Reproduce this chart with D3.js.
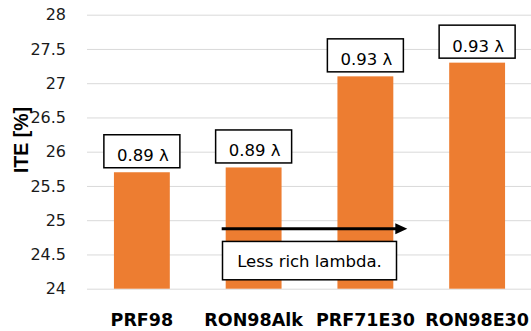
<!DOCTYPE html>
<html>
<head>
<meta charset="utf-8">
<script src="https://cdn.jsdelivr.net/npm/d3@7"></script>
<style>
  html, body { margin: 0; padding: 0; background: #fff; }
  svg { display: block; }
</style>
</head>
<body>
<svg id="chart" width="531" height="331"></svg>
<script>
// Fuel blends and their indicated thermal efficiency
const categories = ["PRF98", "RON98Alk", "PRF71E30", "RON98E30"];
const iteValues = [25.70, 25.77, 27.10, 27.30];
const lambdaLabels = ["0.89 λ", "0.89 λ", "0.93 λ", "0.93 λ"];
const yTicks = [24, 24.5, 25, 25.5, 26, 26.5, 27, 27.5, 28];
const annotationText = "Less rich lambda.";

const svg = d3.select("#chart");
const plot = { left: 86, right: 533, top: 14.7, bottom: 288.7 };

const x = d3.scaleBand()
  .domain(categories)
  .range([plot.left, plot.right])
  .paddingInner(0.5)
  .paddingOuter(0.25);

const y = d3.scaleLinear()
  .domain([24, 28])
  .range([plot.bottom, plot.top]);

// Gridlines and tick labels
const yAxis = d3.axisLeft(y)
  .tickValues(yTicks)
  .tickSize(-(531 - (plot.left + 1)))
  .tickPadding(21)
  .tickFormat(d => String(d));

const gy = svg.append("g")
  .attr("transform", `translate(${plot.left + 1},0)`)
  .call(yAxis);
gy.select(".domain").remove();
gy.selectAll(".tick line").attr("stroke", "#d9d9d9").attr("stroke-width", 1);
gy.selectAll(".tick text")
  .attr("font-family", "DejaVu Sans")
  .attr("font-size", 16)
  .attr("fill", "#1a1a1a");

// Axis title
svg.append("text")
  .attr("transform", `translate(27.5,140) rotate(-90)`)
  .attr("text-anchor", "middle")
  .attr("font-family", "Liberation Sans")
  .attr("font-weight", "bold")
  .attr("font-size", 19.5)
  .attr("fill", "#000")
  .text("ITE [%]");

// Bars
svg.append("g").selectAll("rect")
  .data(categories)
  .join("rect")
  .attr("x", d => x(d))
  .attr("y", (d, i) => y(iteValues[i]))
  .attr("width", x.bandwidth())
  .attr("height", (d, i) => y(24) - y(iteValues[i]))
  .attr("fill", "#ED7D31");

// Lambda callouts above bars
const boxW = 76, boxH = 33, boxGap = 4.5;
const callouts = svg.append("g").selectAll("g")
  .data(categories)
  .join("g")
  .attr("transform", (d, i) =>
    `translate(${x(d) + x.bandwidth() / 2},${y(iteValues[i]) - boxGap})`);
callouts.append("rect")
  .attr("x", -boxW / 2)
  .attr("y", -boxH)
  .attr("width", boxW)
  .attr("height", boxH)
  .attr("fill", "#fff")
  .attr("stroke", "#000")
  .attr("stroke-width", 1.5);
callouts.append("text")
  .attr("x", 1)
  .attr("y", -6.5)
  .attr("text-anchor", "middle")
  .attr("font-family", "DejaVu Sans")
  .attr("font-size", 16.5)
  .attr("fill", "#000")
  .text((d, i) => lambdaLabels[i]);

// Category labels
svg.append("g").selectAll("text")
  .data(categories)
  .join("text")
  .attr("x", d => x(d) + x.bandwidth() / 2)
  .attr("y", 325.7)
  .attr("text-anchor", "middle")
  .attr("font-family", "DejaVu Sans")
  .attr("font-weight", "bold")
  .attr("font-size", 17.5)
  .attr("fill", "#000")
  .text(d => d);

// Arrow across the ethanol blends
const arrowY = y(24.875);
const arrowX0 = x(categories[1]) - 4;
const arrowX1 = x(categories[2]) + x.bandwidth() + 14;
const headLen = 12, headHalf = 5.5;
svg.append("line")
  .attr("x1", arrowX0)
  .attr("x2", arrowX1 - headLen + 1)
  .attr("y1", arrowY)
  .attr("y2", arrowY)
  .attr("stroke", "#000")
  .attr("stroke-width", 3.2);
svg.append("path")
  .attr("d", `M${arrowX1},${arrowY} L${arrowX1 - headLen},${arrowY - headHalf} L${arrowX1 - headLen},${arrowY + headHalf} Z`)
  .attr("fill", "#000");

// Annotation box
const noteCx = (x(categories[1]) + x(categories[2])) / 2 + x.bandwidth() / 2;
const noteTop = y(24.69), noteBottom = y(24.13);
const noteW = 174;
svg.append("rect")
  .attr("x", noteCx - noteW / 2)
  .attr("y", noteTop)
  .attr("width", noteW)
  .attr("height", noteBottom - noteTop)
  .attr("fill", "#fff")
  .attr("stroke", "#000")
  .attr("stroke-width", 1.5);
svg.append("text")
  .attr("x", noteCx)
  .attr("y", (noteTop + noteBottom) / 2 + 6)
  .attr("text-anchor", "middle")
  .attr("font-family", "DejaVu Sans")
  .attr("font-size", 16.5)
  .attr("fill", "#000")
  .text(annotationText);
</script>
</body>
</html>
